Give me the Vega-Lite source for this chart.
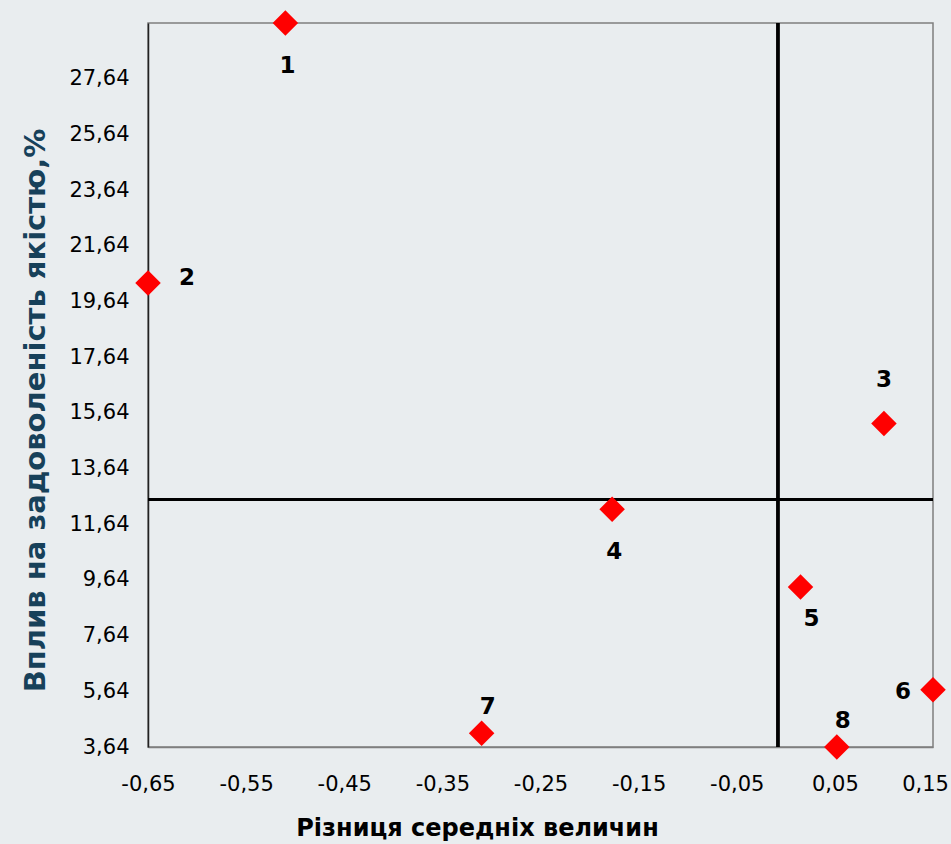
{
  "$schema": "https://vega.github.io/schema/vega-lite/v6.json",
  "width": 785,
  "height": 724,
  "autosize": {"type": "none"},
  "padding": {"left": 148, "top": 23, "right": 18, "bottom": 97},
  "background": "#e9edef",
  "config": {
    "view": {"stroke": "#7f7f7f", "strokeWidth": 1.5, "fill": "#e9edef"},
    "font": "DejaVu Sans"
  },
  "data": {
    "values": [
      {"id": "1", "diff": -0.51, "impact": 29.64, "pos": "below"},
      {"id": "2", "diff": -0.65, "impact": 20.30, "pos": "right"},
      {"id": "3", "diff": 0.10, "impact": 15.26, "pos": "above"},
      {"id": "4", "diff": -0.177, "impact": 12.18, "pos": "below"},
      {"id": "5", "diff": 0.015, "impact": 9.39, "pos": "belowright"},
      {"id": "6", "diff": 0.15, "impact": 5.70, "pos": "left"},
      {"id": "7", "diff": -0.31, "impact": 4.13, "pos": "aboveright"},
      {"id": "8", "diff": 0.052, "impact": 3.64, "pos": "aboveright"}
    ]
  },
  "encoding": {
    "x": {
      "field": "diff", "type": "quantitative",
      "scale": {"domain": [-0.65, 0.15], "nice": false, "zero": false},
      "axis": {
        "title": "Різниця середніх величин",
        "titleFont": "DejaVu Sans", "titleFontSize": 24, "titleFontWeight": "bold", "titleColor": "#000000",
        "titlePadding": 22, "titleX": 329, "titleAlign": "center", "titleAnchor": null,
        "values": [-0.65, -0.55, -0.45, -0.35, -0.25, -0.15, -0.05, 0.05, 0.15],
        "labelExpr": "replace(replace(format(datum.value, '.2f'), '.', ','), '\u2212', '-')",
        "labelFont": "DejaVu Sans", "labelFontSize": 21, "labelColor": "#000000",
        "labelOffset": {"condition": {"test": "datum.value > 0.1", "value": -8}, "value": 0},
        "labelPadding": 26, "labelFlush": false, "labelOverlap": false, "ticks": false, "grid": false,
        "domainColor": "#7f7f7f", "domainWidth": 1.5
      }
    },
    "y": {
      "field": "impact", "type": "quantitative",
      "scale": {"domain": [3.64, 29.64], "nice": false, "zero": false},
      "axis": {
        "title": "Вплив на задоволеність якістю,%",
        "titleFont": "DejaVu Sans", "titleFontSize": 29, "titleFontWeight": "bold", "titleColor": "#17415a",
        "titlePadding": 18, "titleY": 387, "titleAlign": "center", "titleAnchor": null,
        "values": [3.64, 5.64, 7.64, 9.64, 11.64, 13.64, 15.64, 17.64, 19.64, 21.64, 23.64, 25.64, 27.64],
        "labelExpr": "replace(format(datum.value, '.2f'), '.', ',')",
        "labelFont": "DejaVu Sans", "labelFontSize": 21, "labelColor": "#000000",
        "labelPadding": 19, "labelFlush": false, "labelOverlap": false, "ticks": false, "grid": false,
        "domainColor": "#222222", "domainWidth": 1.5
      }
    }
  },
  "layer": [
    {
      "mark": {"type": "rule", "color": "#000000", "strokeWidth": 2.5},
      "encoding": {"x": {"datum": -0.008}, "y": null}
    },
    {
      "mark": {"type": "rule", "color": "#000000", "strokeWidth": 2.5},
      "encoding": {"y": {"datum": 12.53}, "x": null}
    },
    {
      "mark": {"type": "point", "shape": "diamond", "filled": true, "color": "#ff0000", "size": 650, "opacity": 1, "clip": false}
    },
    {
      "transform": [{"filter": "datum.pos === 'below'"}],
      "mark": {"type": "text", "font": "DejaVu Sans", "fontSize": 23, "fontWeight": "bold", "color": "#000000", "dx": 2, "dy": 43, "baseline": "middle", "align": "center"},
      "encoding": {"text": {"field": "id"}}
    },
    {
      "transform": [{"filter": "datum.pos === 'belowright'"}],
      "mark": {"type": "text", "font": "DejaVu Sans", "fontSize": 23, "fontWeight": "bold", "color": "#000000", "dx": 11, "dy": 32, "baseline": "middle", "align": "center"},
      "encoding": {"text": {"field": "id"}}
    },
    {
      "transform": [{"filter": "datum.pos === 'right'"}],
      "mark": {"type": "text", "font": "DejaVu Sans", "fontSize": 23, "fontWeight": "bold", "color": "#000000", "dx": 39, "dy": -5, "baseline": "middle", "align": "center"},
      "encoding": {"text": {"field": "id"}}
    },
    {
      "transform": [{"filter": "datum.pos === 'above'"}],
      "mark": {"type": "text", "font": "DejaVu Sans", "fontSize": 23, "fontWeight": "bold", "color": "#000000", "dx": 0, "dy": -43, "baseline": "middle", "align": "center"},
      "encoding": {"text": {"field": "id"}}
    },
    {
      "transform": [{"filter": "datum.pos === 'aboveright'"}],
      "mark": {"type": "text", "font": "DejaVu Sans", "fontSize": 23, "fontWeight": "bold", "color": "#000000", "dx": 6, "dy": -26, "baseline": "middle", "align": "center"},
      "encoding": {"text": {"field": "id"}}
    },
    {
      "transform": [{"filter": "datum.pos === 'left'"}],
      "mark": {"type": "text", "font": "DejaVu Sans", "fontSize": 23, "fontWeight": "bold", "color": "#000000", "dx": -30, "dy": 2, "baseline": "middle", "align": "center"},
      "encoding": {"text": {"field": "id"}}
    }
  ]
}
